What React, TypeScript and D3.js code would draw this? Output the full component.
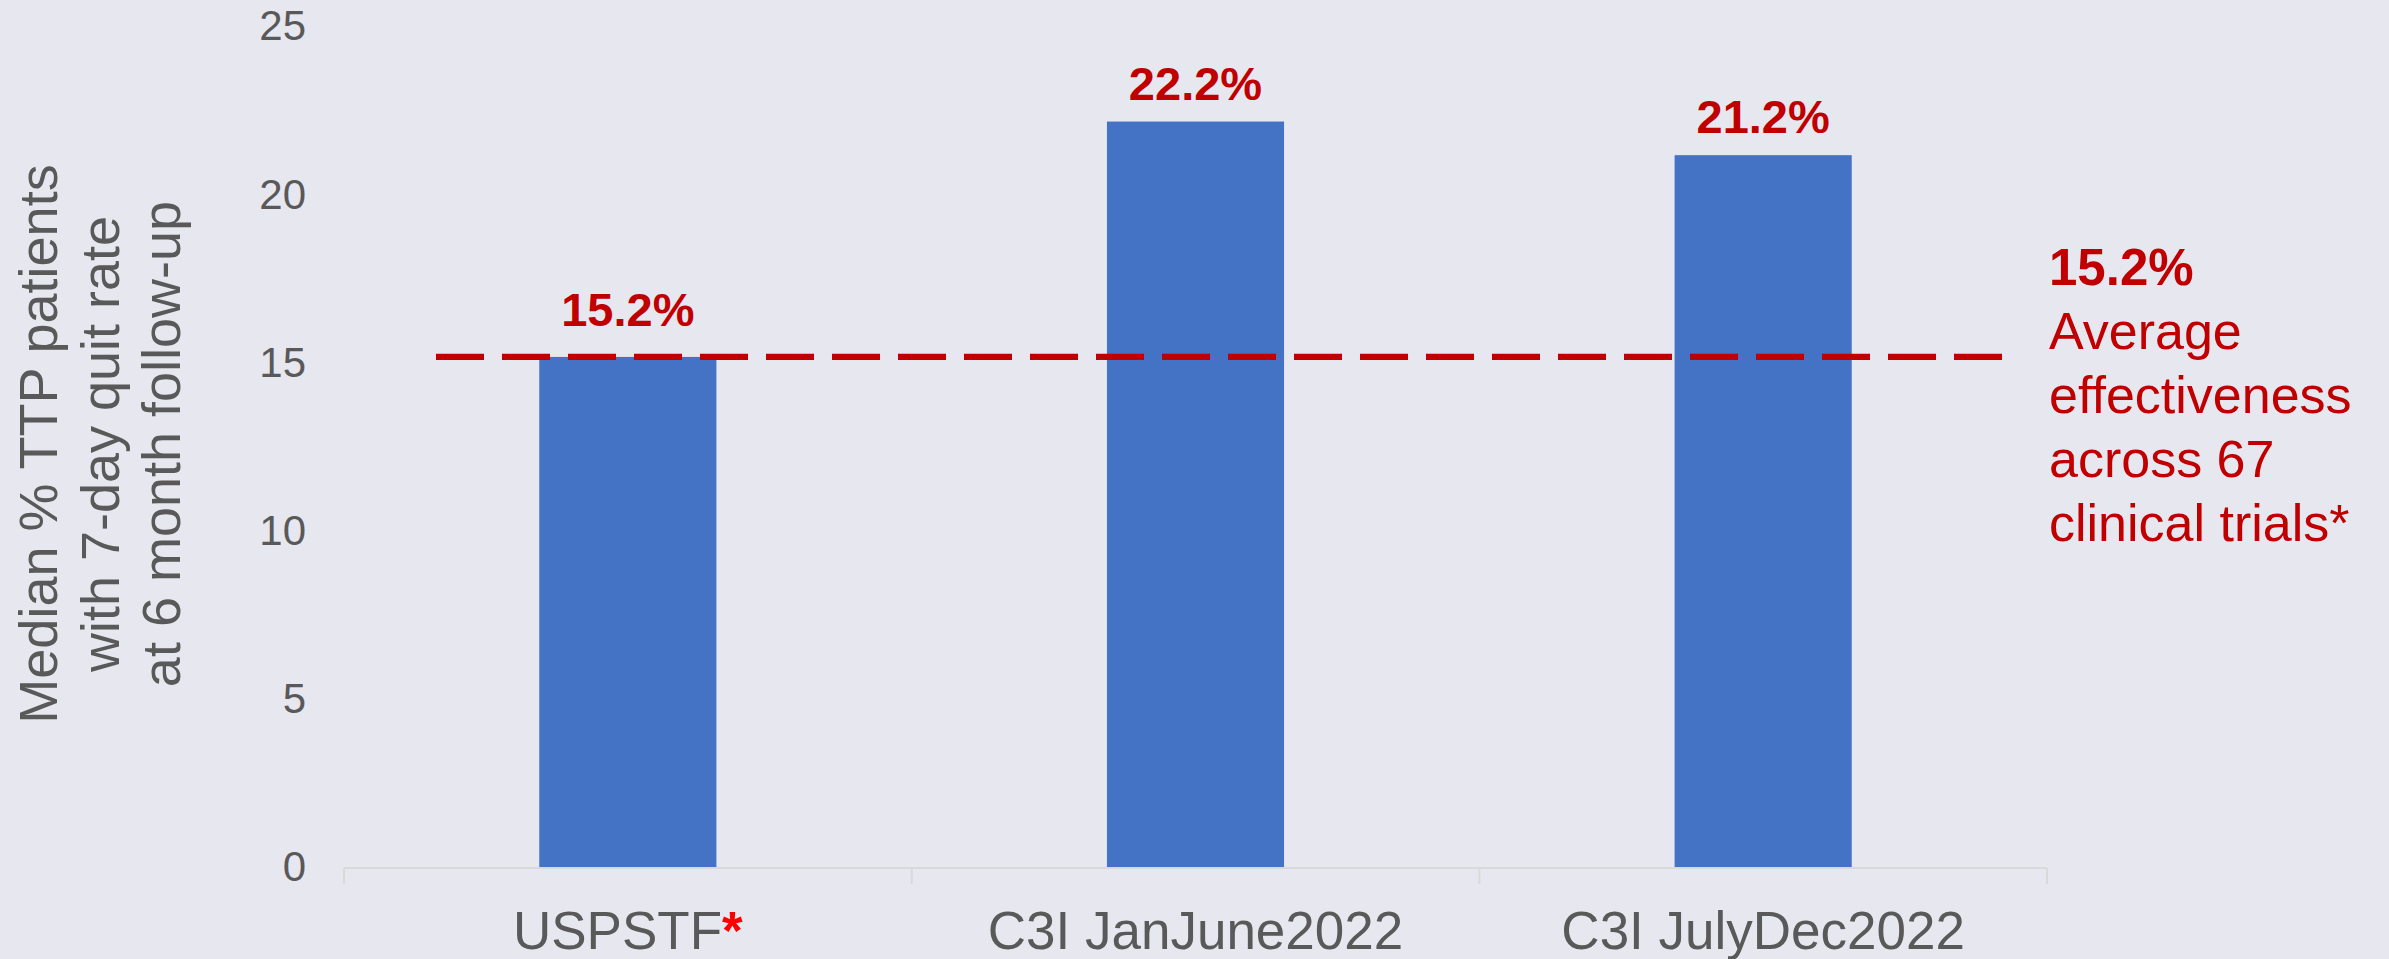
import React from "react";
import * as d3 from "d3";

const categories = ["USPSTF", "C3I JanJune2022", "C3I JulyDec2022"];
const categoryMarks = ["*", "", ""];
const values = [15.2, 22.2, 21.2];
const valueLabels = ["15.2%", "22.2%", "21.2%"];
const averageValue = 15.2;
const averageLabel = "15.2%";
const averageText = ["Average", "effectiveness", "across 67", "clinical trials*"];
const yTicks = [0, 5, 10, 15, 20, 25];
const yTitle = ["Median % TTP patients", "with 7-day quit rate", "at 6 month follow-up"];

const W = 2389;
const H = 959;
const FONT = "'Liberation Sans', Arial, Helvetica, sans-serif";
const GRAY = "#595959";
const RED = "#C00000";
const BAR = "#4472C4";
const BG = "#E7E7F0";

export default function App() {
  const x = d3.scaleBand<string>().domain(categories).range([344, 2047]).padding(0);
  const y = d3.scaleLinear().domain([0, 25]).range([868, 27.4]);
  const bw = x.bandwidth() * 0.312;
  const tickXs = categories.map((c) => x(c) as number).concat([2047]);
  const avgY = y(averageValue);

  return (
    <svg
      width={W}
      height={H}
      viewBox={`0 0 ${W} ${H}`}
      style={{ position: "absolute", left: 0, top: 0, display: "block" }}
      fontFamily={FONT}
    >
      <rect x={0} y={0} width={W} height={H} fill={BG} />

      {/* Y axis title */}
      <text transform={`translate(0, 444) rotate(-90)`} textAnchor="middle" fontSize={54} fill={GRAY}>
        {yTitle.map((t, i) => (
          <tspan key={i} x={0} y={57 + i * 61.5}>
            {t}
          </tspan>
        ))}
      </text>

      {/* Y tick labels */}
      {yTicks.map((t) => (
        <text key={t} x={306} y={y(t)} dy="0.31em" textAnchor="end" fontSize={42} fill={GRAY}>
          {t}
        </text>
      ))}

      {/* Bars */}
      {categories.map((c, i) => {
        const cx = (x(c) as number) + x.bandwidth() / 2;
        return (
          <rect key={c} x={cx - bw / 2} y={y(values[i])} width={bw} height={y(0) - y(values[i])} fill={BAR} />
        );
      })}

      {/* X axis */}
      <line x1={344} x2={2047} y1={868} y2={868} stroke="#D9D9D9" strokeWidth={2} />
      {tickXs.map((tx, i) => (
        <line key={i} x1={tx} x2={tx} y1={868} y2={884} stroke="#D9D9D9" strokeWidth={2} />
      ))}
      {categories.map((c, i) => {
        const cx = (x(c) as number) + x.bandwidth() / 2;
        return (
          <text key={c} x={cx} y={949} textAnchor="middle" fontSize={53} fill={GRAY}>
            {c}
            {categoryMarks[i] ? (
              <tspan fill="#FF0000" fontWeight="bold">
                {categoryMarks[i]}
              </tspan>
            ) : null}
          </text>
        );
      })}

      {/* Average dashed line */}
      <line
        x1={436}
        x2={2002}
        y1={avgY}
        y2={avgY}
        stroke={RED}
        strokeWidth={6.3}
        strokeDasharray="48 18"
      />

      {/* Value labels */}
      {categories.map((c, i) => {
        const cx = (x(c) as number) + x.bandwidth() / 2;
        const off = values[i] === averageValue ? 31 : 22;
        return (
          <text key={c} x={cx} y={y(values[i]) - off} textAnchor="middle" fontSize={47} fontWeight="bold" fill={RED}>
            {valueLabels[i]}
          </text>
        );
      })}

      {/* Annotation */}
      <text x={2049} y={285} fontSize={51} fontWeight="bold" fill={RED}>
        {averageLabel}
      </text>
      <text fontSize={52} fill={RED}>
        {averageText.map((t, i) => (
          <tspan key={i} x={2049} y={348.5 + i * 64}>
            {t}
          </tspan>
        ))}
      </text>
    </svg>
  );
}
